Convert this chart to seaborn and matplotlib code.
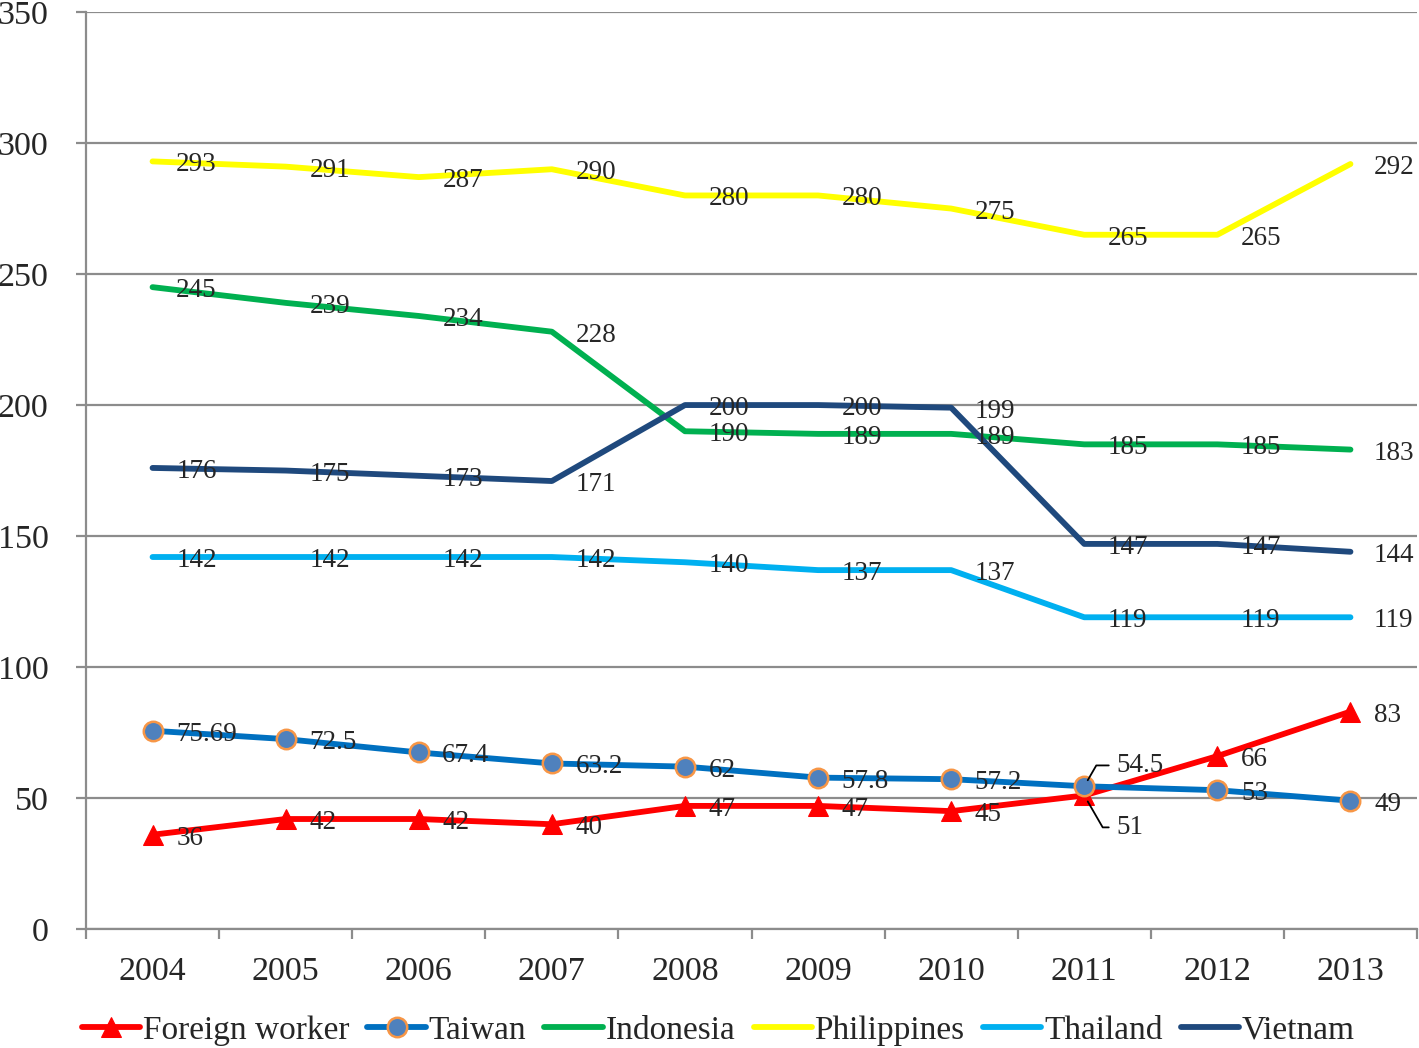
import matplotlib
matplotlib.use('Agg')
import matplotlib.pyplot as plt
import numpy as np
import pandas as pd
import seaborn as sns

years = ['2004', '2005', '2006', '2007', '2008', '2009', '2010', '2011', '2012', '2013']
foreign_worker = [36, 42, 42, 40, 47, 47, 45, 51, 66, 83]
taiwan = [75.69, 72.5, 67.4, 63.2, 62, 57.8, 57.2, 54.5, 53, 49]
indonesia = [245, 239, 234, 228, 190, 189, 189, 185, 185, 183]
philippines = [293, 291, 287, 290, 280, 280, 275, 265, 265, 292]
thailand = [142, 142, 142, 142, 140, 137, 137, 119, 119, 119]
vietnam = [176, 175, 173, 171, 200, 200, 199, 147, 147, 144]

sns.set_style('white')
plt.rcParams['font.family'] = ['Liberation Serif', 'DejaVu Serif']

series = [
    ('Foreign worker', foreign_worker, '#FF0000', dict(marker='^', markersize=15, markerfacecolor='#FF0000', markeredgecolor='#FF0000')),
    ('Taiwan', taiwan, '#0070C0', dict(marker='o', markersize=14, markerfacecolor='#4F81BD', markeredgecolor='#F79646', markeredgewidth=1.8)),
    ('Indonesia', indonesia, '#00B050', {}),
    ('Philippines', philippines, '#FFFF00', {}),
    ('Thailand', thailand, '#00B0F0', {}),
    ('Vietnam', vietnam, '#1F497D', {}),
]

fig = plt.figure(figsize=(14.19, 10.48), dpi=100)
ax = fig.add_axes([0.0606, 0.1135, 0.938, 0.875])

lbl_size = 19.5
x = np.arange(len(years))
for name, vals, color, mk in series:
    df = pd.DataFrame({'x': x, 'y': vals})
    sns.lineplot(data=df, x='x', y='y', ax=ax, color=color, linewidth=4.2,
                 label=name, **mk)
    for i, v in enumerate(vals):
        if name == 'Taiwan' and i == 7:
            ax.annotate(f'{v:g}', (i, v), xytext=(23, 15), textcoords='offset points',
                        ha='left', va='center', fontsize=lbl_size,
                        arrowprops=dict(arrowstyle='-', color='black', lw=1.3,
                                        connectionstyle='angle,angleA=0,angleB=60',
                                        shrinkA=3, shrinkB=5))
        elif name == 'Foreign worker' and i == 7:
            ax.annotate(f'{v:g}', (i, v), xytext=(23, -23), textcoords='offset points',
                        ha='left', va='center', fontsize=lbl_size,
                        arrowprops=dict(arrowstyle='-', color='black', lw=1.3,
                                        connectionstyle='angle,angleA=0,angleB=-60',
                                        shrinkA=3, shrinkB=5))
        else:
            ax.annotate(f'{v:g}', (i, v), xytext=(17, -2.5), textcoords='offset points',
                        ha='left', va='center', fontsize=lbl_size)

ax.set_xlim(-0.5, 9.5)
ax.set_ylim(0, 350)
ax.set_yticks(range(0, 351, 50))
ax.set_xticks(x)
ax.set_xticklabels(years)
ax.set_xticks(np.arange(-0.5, 10, 1), minor=True)
ax.set_xlabel('')
ax.set_ylabel('')

grid_c = '#8C8C8C'
ax.yaxis.grid(True, color=grid_c, linewidth=1.6)
ax.set_axisbelow(True)
for s in ['top', 'right']:
    ax.spines[s].set_visible(False)
for s in ['left', 'bottom']:
    ax.spines[s].set_color(grid_c)
    ax.spines[s].set_linewidth(1.6)

ax.tick_params(axis='y', which='major', direction='out', length=7, width=1.6,
               color=grid_c, pad=20, labelsize=24.5, left=True)
ax.tick_params(axis='x', which='major', length=0, pad=20, labelsize=24.5)
ax.tick_params(axis='x', which='minor', direction='out', length=7, width=1.6,
               color=grid_c, bottom=True)

ax.legend(loc='lower center', bbox_to_anchor=(0.475, -0.142), ncol=6, frameon=False,
          fontsize=24, handlelength=1.75, handletextpad=0.08, columnspacing=0.55,
          borderaxespad=0)

fig.savefig('out.png', dpi=100)
